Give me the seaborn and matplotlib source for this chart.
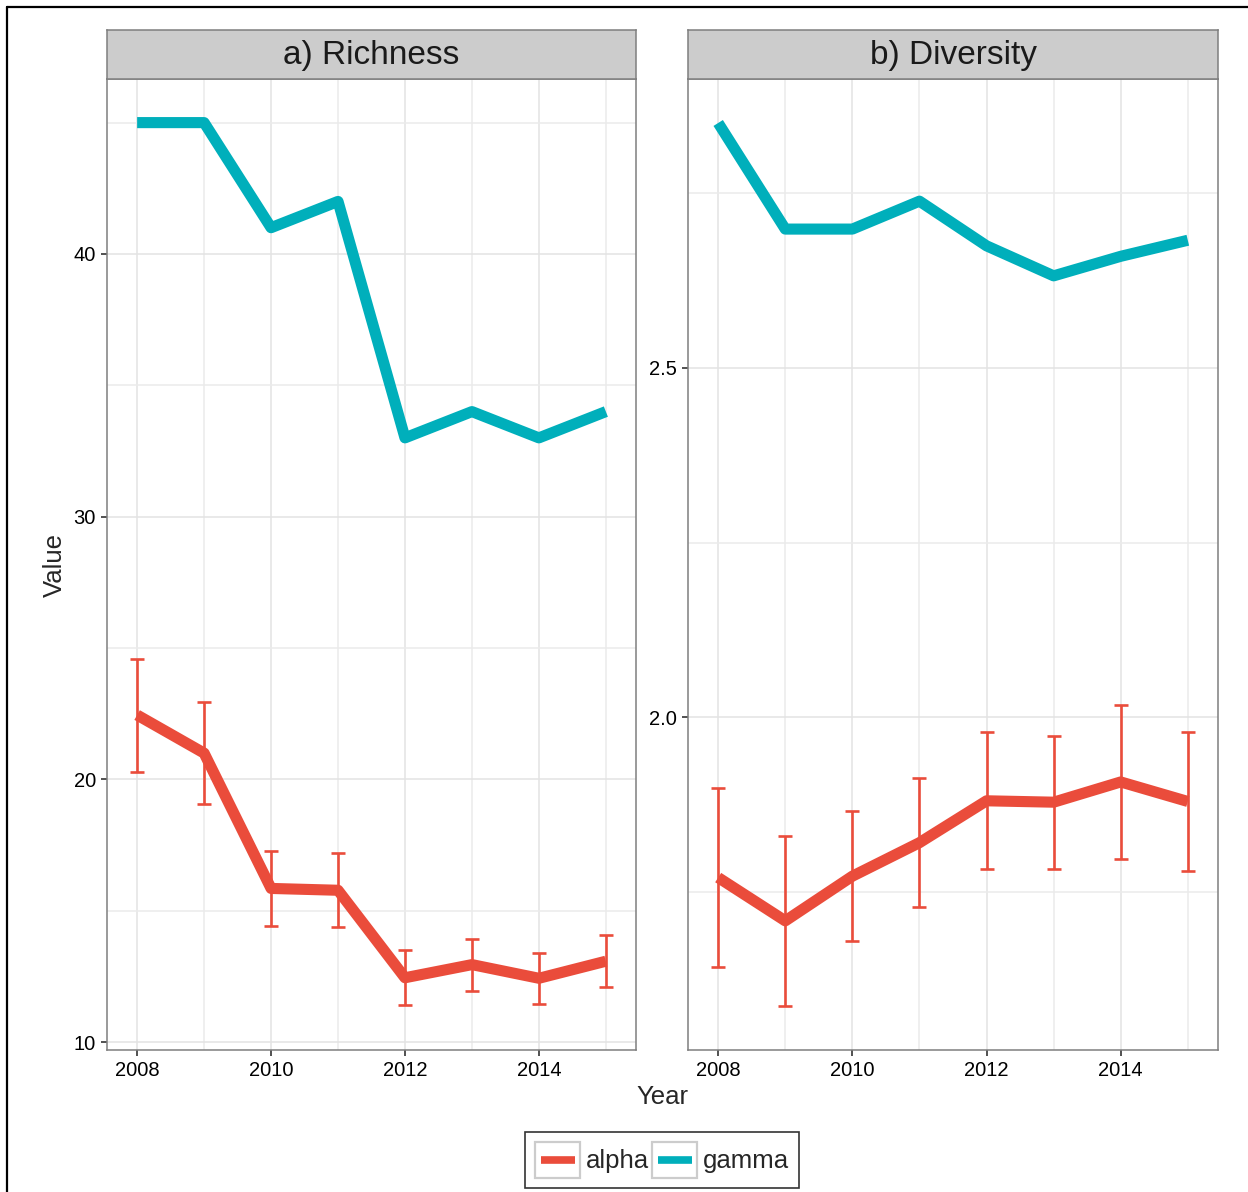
import matplotlib
matplotlib.use("Agg")
import matplotlib.pyplot as plt
import numpy as np
import pandas as pd
import seaborn as sns
from matplotlib.ticker import MultipleLocator
from matplotlib.patches import Rectangle
from matplotlib.lines import Line2D
from matplotlib.legend_handler import HandlerLine2D

# data
years = [2008, 2009, 2010, 2011, 2012, 2013, 2014, 2015]
rich_alpha = [22.45, 21.0, 15.85, 15.78, 12.45, 12.95, 12.43, 13.08]
rich_alpha_se = [2.15, 1.94, 1.42, 1.40, 1.05, 0.99, 0.97, 0.98]
rich_gamma = [45, 45, 41, 42, 33, 34, 33, 34]
div_alpha = [1.770, 1.708, 1.772, 1.820, 1.880, 1.878, 1.907, 1.879]
div_alpha_se = [0.128, 0.122, 0.093, 0.092, 0.098, 0.095, 0.110, 0.099]
div_gamma = [2.851, 2.699, 2.699, 2.739, 2.675, 2.632, 2.660, 2.683]
panel_titles = ["a) Richness", "b) Diversity"]
series_names = ["alpha", "gamma"]

col_alpha = "#EA4C3B"
col_gamma = "#00AFBB"
palette = {"alpha": col_alpha, "gamma": col_gamma}

sns.set_theme(style="white")
plt.rcParams["font.family"] = ["Liberation Sans", "DejaVu Sans"]

W, H = 1248, 1192
fig = plt.figure(figsize=(W / 100, H / 100), dpi=100)

def px_box(x0, y0, x1, y1):
    return [x0 / W, 1 - y1 / H, (x1 - x0) / W, (y1 - y0) / H]

panels = [
    dict(alpha=rich_alpha, se=rich_alpha_se, gamma=rich_gamma,
         ylim=(9.7, 46.66), major=10, minor=5, fmt="{:.0f}", x0=107, x1=636),
    dict(alpha=div_alpha, se=div_alpha_se, gamma=div_gamma,
         ylim=(1.523, 2.914), major=0.5, minor=0.25, fmt="{:.1f}", x0=688, x1=1218),
]

for title, p in zip(panel_titles, panels):
    ax = fig.add_axes(px_box(p["x0"], 79, p["x1"], 1050))
    df = pd.DataFrame({
        "Year": years * 2,
        "Value": list(p["alpha"]) + list(p["gamma"]),
        "series": ["alpha"] * len(years) + ["gamma"] * len(years),
    })
    sns.lineplot(data=df, x="Year", y="Value", hue="series", palette=palette,
                 lw=8, ax=ax, legend=False, solid_capstyle="butt",
                 solid_joinstyle="round")
    ax.errorbar(years, p["alpha"], yerr=p["se"], fmt="none", ecolor=col_alpha,
                elinewidth=1.9, capsize=5, capthick=1.9, zorder=3)

    ax.set_xlim(2007.55, 2015.45)
    ax.set_ylim(*p["ylim"])
    ax.xaxis.set_major_locator(MultipleLocator(2))
    ax.xaxis.set_minor_locator(MultipleLocator(1))
    ax.yaxis.set_major_locator(MultipleLocator(p["major"]))
    ax.yaxis.set_minor_locator(MultipleLocator(p["minor"]))
    ax.set_yticklabels([p["fmt"].format(t) for t in ax.get_yticks()])
    ax.grid(True, which="major", color="#E3E3E3", lw=1.1)
    ax.grid(True, which="minor", color="#EBEBEB", lw=1.1)
    ax.set_axisbelow(True)
    ax.tick_params(which="major", direction="out", length=4, width=1.2,
                   color="#333333", labelsize=14.5, labelcolor="black",
                   bottom=True, left=True, pad=4)
    ax.tick_params(which="minor", length=0)
    for s in ax.spines.values():
        s.set_color("#7F7F7F")
        s.set_linewidth(1.1)
    ax.set_xlabel("")
    ax.set_ylabel("")

    # facet strip
    sax = fig.add_axes(px_box(p["x0"], 30, p["x1"], 79))
    sax.set_facecolor("#CCCCCC")
    sax.set_xticks([])
    sax.set_yticks([])
    for s in sax.spines.values():
        s.set_color("#7F7F7F")
        s.set_linewidth(1.1)
    sax.text(0.5, 0.47, title, ha="center", va="center", fontsize=24,
             color="#1A1A1A", transform=sax.transAxes)

fig.text(55 / W, 1 - 565 / H, "Value", rotation=90, ha="center", va="center",
         fontsize=18.5)
fig.text(662 / W, 1 - 1097 / H, "Year", ha="center", va="center", fontsize=18.5)


class BoxedLine(HandlerLine2D):
    def create_artists(self, legend, orig_handle, xdescent, ydescent, width,
                       height, fontsize, trans):
        box = Rectangle((-xdescent, -ydescent), width, height, facecolor="white",
                        edgecolor="#CCCCCC", lw=1.6, transform=trans)
        yc = -ydescent + height / 2
        line = Line2D([-xdescent + 0.12 * width, -xdescent + 0.88 * width],
                      [yc, yc], color=orig_handle.get_color(), lw=5.5,
                      solid_capstyle="butt", transform=trans)
        return [box, line]


handles = [Line2D([], [], color=palette[n]) for n in series_names]
leg = fig.legend(handles, series_names, loc="center",
                 bbox_to_anchor=(662 / W, 1 - 1160 / H), ncol=2, fontsize=18.5,
                 frameon=True, fancybox=False, edgecolor="black",
                 handlelength=1.75, handleheight=1.8, handletextpad=0.2,
                 columnspacing=0.15, borderpad=0.4,
                 handler_map={Line2D: BoxedLine()})
leg.get_frame().set_linewidth(1.2)

# outer frame (left and top edges visible)
fig.add_artist(Line2D([7 / W, 7 / W], [0, 1 - 7 / H], color="black", lw=1.6,
                      transform=fig.transFigure))
fig.add_artist(Line2D([7 / W, 1], [1 - 7 / H, 1 - 7 / H], color="black", lw=1.6,
                      transform=fig.transFigure))

fig.savefig("out.png", dpi=100)
